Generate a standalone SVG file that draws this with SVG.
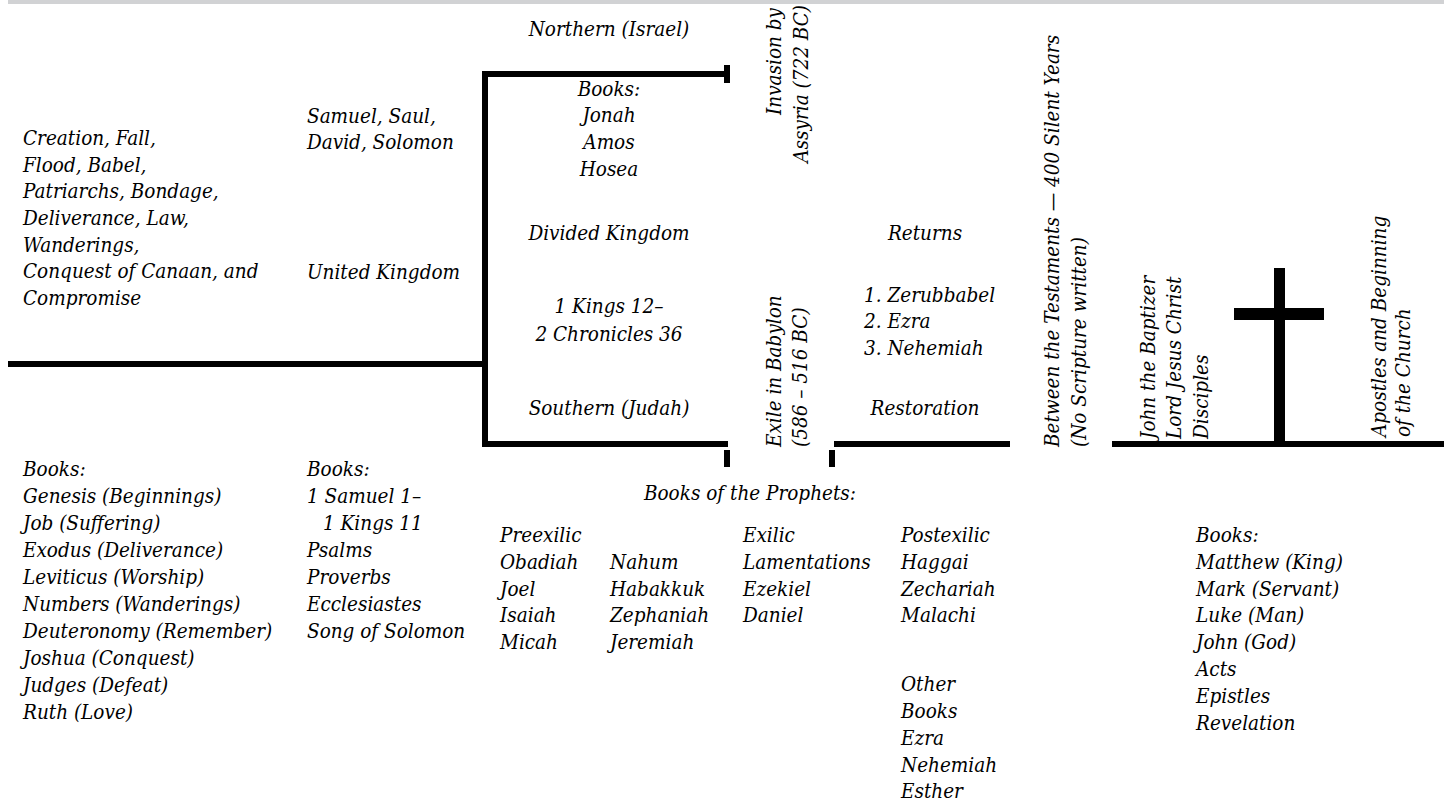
<svg xmlns="http://www.w3.org/2000/svg" width="1451" height="805" viewBox="0 0 1451 805">
<style>
text{font-family:"DejaVu Serif Condensed","DejaVu Serif",serif;font-stretch:condensed;font-style:italic;font-size:20.5px;fill:#000}
.c{text-anchor:middle}
.e{text-anchor:end}
.bar{fill:#000}
</style>
<rect x="8" y="0" width="1436" height="4" fill="#d1d2d4"/>
<g id="timeline">
<rect class="bar" x="8" y="361" width="480" height="6"/>
<rect class="bar" x="482" y="71" width="6" height="376"/>
<rect class="bar" x="482" y="71" width="248" height="6"/>
<rect class="bar" x="724" y="65" width="6" height="18"/>
<rect class="bar" x="482" y="441" width="246" height="6"/>
<rect class="bar" x="724" y="450" width="6" height="17"/>
<rect class="bar" x="834" y="441" width="176" height="6"/>
<rect class="bar" x="829" y="450" width="6" height="17"/>
<rect class="bar" x="1112" y="441" width="332" height="6"/>
<rect class="bar" x="1274" y="268" width="11" height="176"/>
<rect class="bar" x="1234" y="308" width="90" height="12"/>
</g>
<g id="early">
<text x="23" y="145">Creation, Fall,</text>
<text x="23" y="172">Flood, Babel,</text>
<text x="23" y="198">Patriarchs, Bondage,</text>
<text x="23" y="225">Deliverance, Law,</text>
<text x="23" y="252">Wanderings,</text>
<text x="23" y="278">Conquest of Canaan, and</text>
<text x="23" y="305">Compromise</text>
</g>
<g id="early-books">
<text x="23" y="476">Books:</text>
<text x="23" y="503">Genesis (Beginnings)</text>
<text x="23" y="530">Job (Suffering)</text>
<text x="23" y="557">Exodus (Deliverance)</text>
<text x="23" y="584">Leviticus (Worship)</text>
<text x="23" y="611">Numbers (Wanderings)</text>
<text x="23" y="638">Deuteronomy (Remember)</text>
<text x="23" y="665">Joshua (Conquest)</text>
<text x="23" y="692">Judges (Defeat)</text>
<text x="23" y="719">Ruth (Love)</text>
</g>
<g id="united">
<text x="307" y="123">Samuel, Saul,</text>
<text x="307" y="149">David, Solomon</text>
<text x="307" y="279">United Kingdom</text>
</g>
<g id="united-books">
<text x="307" y="476">Books:</text>
<text x="307" y="503">1 Samuel 1–</text>
<text x="323" y="530">1 Kings 11</text>
<text x="307" y="557">Psalms</text>
<text x="307" y="584">Proverbs</text>
<text x="307" y="611">Ecclesiastes</text>
<text x="307" y="638">Song of Solomon</text>
</g>
<g id="divided">
<text class="c" x="609" y="36">Northern (Israel)</text>
<text class="c" x="609" y="96">Books:</text>
<text class="c" x="609" y="122">Jonah</text>
<text class="c" x="609" y="149">Amos</text>
<text class="c" x="609" y="176">Hosea</text>
<text class="c" x="609" y="240">Divided Kingdom</text>
<text class="c" x="609" y="313">1 Kings 12–</text>
<text class="c" x="609" y="341">2 Chronicles 36</text>
<text class="c" x="609" y="415">Southern (Judah)</text>
</g>
<g id="invasion">
<text class="e" transform="translate(781,8) rotate(-90)">Invasion by</text>
<text class="e" transform="translate(808,5) rotate(-90)">Assyria (722 BC)</text>
</g>
<g id="exile">
<text transform="translate(781,447) rotate(-90)">Exile in Babylon</text>
<text transform="translate(807,447) rotate(-90)">(586 – 516 BC)</text>
</g>
<g id="restoration">
<text class="c" x="925" y="240">Returns</text>
<text x="864" y="302">1. Zerubbabel</text>
<text x="864" y="328">2. Ezra</text>
<text x="864" y="355">3. Nehemiah</text>
<text class="c" x="925" y="415">Restoration</text>
</g>
<g id="between">
<text transform="translate(1059,447) rotate(-90)">Between the Testaments — 400 Silent Years</text>
<text transform="translate(1086,447) rotate(-90)">(No Scripture written)</text>
</g>
<g id="gospels">
<text transform="translate(1155,439) rotate(-90)">John the Baptizer</text>
<text transform="translate(1181,439) rotate(-90)">Lord Jesus Christ</text>
<text transform="translate(1208,439) rotate(-90)">Disciples</text>
</g>
<g id="church">
<text transform="translate(1386,437) rotate(-90)">Apostles and Beginning</text>
<text transform="translate(1410,437) rotate(-90)">of the Church</text>
</g>
<g id="prophets">
<text class="c" x="750" y="500">Books of the Prophets:</text>
<text x="500" y="542">Preexilic</text>
<text x="500" y="569">Obadiah</text>
<text x="500" y="596">Joel</text>
<text x="500" y="622">Isaiah</text>
<text x="500" y="649">Micah</text>
<text x="610" y="569">Nahum</text>
<text x="610" y="596">Habakkuk</text>
<text x="610" y="622">Zephaniah</text>
<text x="610" y="649">Jeremiah</text>
<text x="743" y="542">Exilic</text>
<text x="743" y="569">Lamentations</text>
<text x="743" y="596">Ezekiel</text>
<text x="743" y="622">Daniel</text>
<text x="901" y="542">Postexilic</text>
<text x="901" y="569">Haggai</text>
<text x="901" y="596">Zechariah</text>
<text x="901" y="622">Malachi</text>
<text x="901" y="691">Other</text>
<text x="901" y="718">Books</text>
<text x="901" y="745">Ezra</text>
<text x="901" y="772">Nehemiah</text>
<text x="901" y="798">Esther</text>
</g>
<g id="nt-books">
<text x="1196" y="542">Books:</text>
<text x="1196" y="569">Matthew (King)</text>
<text x="1196" y="596">Mark (Servant)</text>
<text x="1196" y="622">Luke (Man)</text>
<text x="1196" y="649">John (God)</text>
<text x="1196" y="676">Acts</text>
<text x="1196" y="703">Epistles</text>
<text x="1196" y="730">Revelation</text>
</g>
</svg>
